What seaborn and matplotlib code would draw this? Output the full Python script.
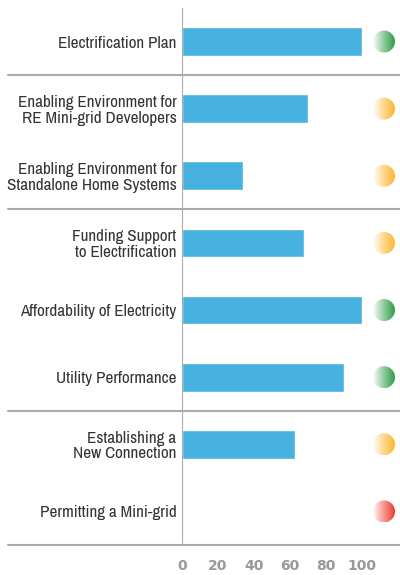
import numpy as np
import matplotlib
matplotlib.use('Agg')
import matplotlib.pyplot as plt
from matplotlib.patches import Ellipse
from matplotlib.colors import LinearSegmentedColormap
import seaborn as sns

categories = [
    'Electrification Plan',
    'Enabling Environment for\nRE Mini-grid Developers',
    'Enabling Environment for\nStandalone Home Systems',
    'Funding Support\nto Electrification',
    'Affordability of Electricity',
    'Utility Performance',
    'Establishing a\nNew Connection',
    'Permitting a Mini-grid',
]
scores = [100, 70, 34, 68, 100, 90, 63, 0]
status = ['green', 'yellow', 'yellow', 'yellow', 'green', 'green', 'yellow', 'red']
group_breaks = [0.5, 2.5, 5.5, 7.5]  # separator lines between groups
x_ticks = [0, 20, 40, 60, 80, 100]

status_colors = {'green': '#2e9e48', 'yellow': '#fdb62f', 'red': '#ee3b2c'}
bar_color = '#47b1e0'
line_color = '#aaaaaa'

sns.set_style('white')
plt.rcParams['font.family'] = ['Archivo Narrow', 'DejaVu Sans']

fig = plt.figure(figsize=(4, 5.75), dpi=100)
# axes: x from 182px to 400px, y from 8px to 545px
ax = fig.add_axes([182 / 400, 1 - 545 / 575, 218 / 400, 537 / 575])

sns.barplot(x=scores, y=categories, color=bar_color, width=0.43,
            orient='h', ax=ax, saturation=1)

x_max = 218 / 1.8
sns.despine(ax=ax, left=True, bottom=True, top=True, right=True)

# vertical axis line
ax.axvline(0, color=line_color, lw=1.5, zorder=3)

# group separators spanning the full width
for yb in group_breaks:
    ax.axhline(yb, xmin=-174 / 218, xmax=1, color=line_color, lw=1.5,
               clip_on=False, zorder=3)

# status dots with white-to-colour gradient
cx = (384 - 182) / 1.8
w = 22 / 1.8
h = 22 / 67.1
grad = np.linspace(0, 1, 256) ** 0.9
grad = np.tile(grad, (16, 1))
for i, s in enumerate(status):
    cmap = LinearSegmentedColormap.from_list(s, ['#ffffff', status_colors[s]])
    ell = Ellipse((cx, i), w, h, facecolor='none', edgecolor='none')
    ax.add_patch(ell)
    im = ax.imshow(grad, cmap=cmap, extent=[cx - w / 2, cx + w / 2, i + h / 2, i - h / 2],
                   aspect='auto', zorder=4, interpolation='bilinear')
    im.set_clip_path(ell)
ax.set_xlim(0, x_max)
ax.set_ylim(7.5, -0.5)

ax.set_xticks(x_ticks)
ax.set_xticklabels([str(t) for t in x_ticks], fontsize=10, color='#999999',
                   fontweight='bold', family=['DejaVu Sans'])
ax.tick_params(axis='x', length=0, pad=10)
ax.tick_params(axis='y', length=0, pad=4)
for lbl in ax.get_yticklabels():
    lbl.set_fontsize(12.3)
    lbl.set_color('#333333')
    lbl.set_linespacing(1.05)
    lbl.set_horizontalalignment('right')
    lbl.set_multialignment('right')
ax.set_xlabel('')
ax.set_ylabel('')

fig.savefig('out.png', dpi=100)
